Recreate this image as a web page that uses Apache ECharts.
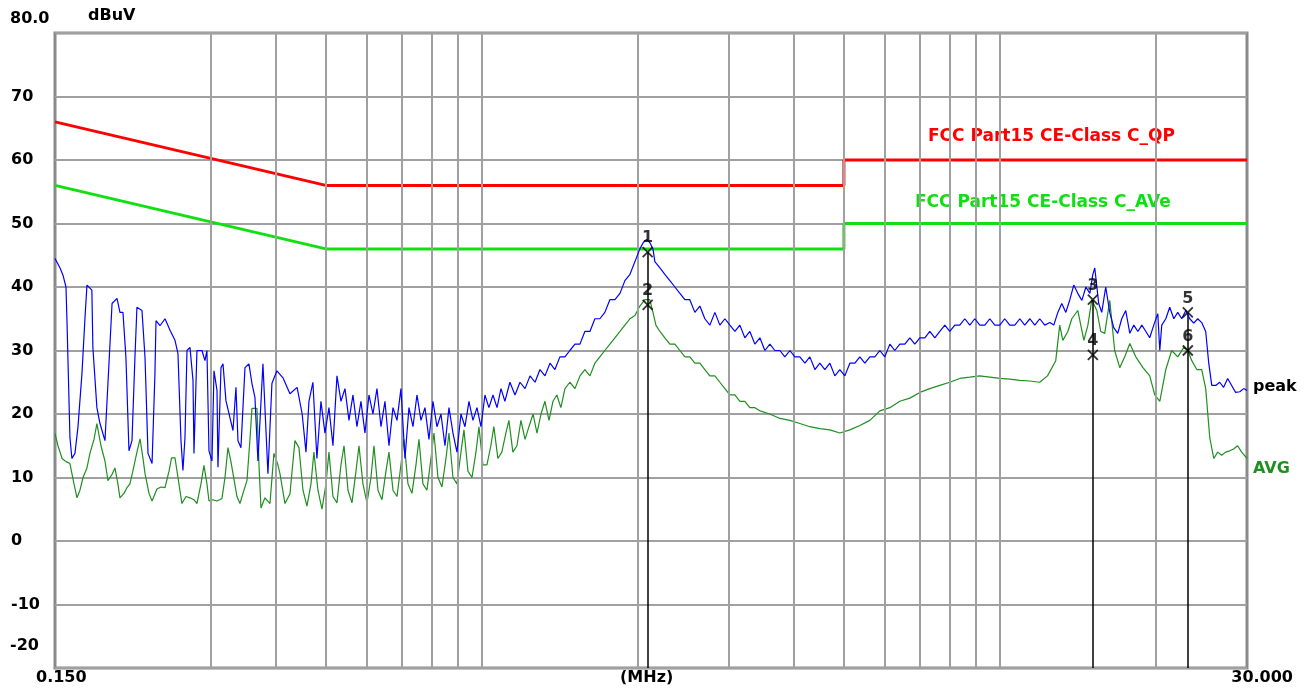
<!DOCTYPE html>
<html>
<head>
<meta charset="utf-8">
<title>Conducted emission</title>
<script src="https://cdn.jsdelivr.net/npm/echarts@6/dist/echarts.min.js"></script>
<style>
  html, body { margin: 0; padding: 0; background: #fff; }
  #chart { width: 1306px; height: 691px; }
</style>
</head>
<body>
<div id="chart"></div>
<script>
// frequency in MHz, level in dBuV
const peakTrace = [
    [0.150, 44.5], [0.1534, 43], [0.1555, 41.8], [0.1575, 40], [0.1582, 34.7], [0.1603, 16.3], [0.1617, 13.0],
    [0.1639, 13.8], [0.1661, 17.9], [0.1691, 26.4], [0.1714, 35.2], [0.1729, 40.3], [0.1767, 39.5], [0.1775, 30.5],
    [0.1807, 21], [0.1832, 18.5], [0.1873, 15.8], [0.1898, 24.8], [0.1933, 37.4], [0.1976, 38.2], [0.2002, 36],
    [0.2029, 36], [0.2056, 28.9], [0.2084, 14.2], [0.2112, 15.8], [0.2140, 28.9], [0.2159, 36.8], [0.2208, 36.3],
    [0.2238, 28.9], [0.2268, 13.8], [0.2309, 12.2], [0.2339, 26.4], [0.2350, 34.7], [0.2392, 33.9], [0.2446, 35],
    [0.2501, 33.2], [0.2557, 31.6], [0.2591, 29.5], [0.2626, 15.8], [0.2649, 11.1], [0.2673, 16.3], [0.2697, 30],
    [0.2733, 30.5], [0.2770, 25.3], [0.2782, 13.8], [0.2819, 30], [0.2883, 30], [0.2921, 28.4], [0.2947, 30],
    [0.2974, 14.2], [0.3014, 12.6], [0.3041, 26.8], [0.3082, 23.7], [0.3095, 11.6], [0.3137, 27.3], [0.3165, 27.9],
    [0.3207, 22.1], [0.3265, 19.4], [0.3309, 17.4], [0.3353, 24.2], [0.3383, 15.8], [0.3428, 14.7], [0.3490, 27.3],
    [0.3552, 27.9], [0.3600, 24.8], [0.3648, 22.6], [0.3697, 12.6], [0.3780, 27.9], [0.3865, 10.6], [0.3934, 24.8],
    [0.4022, 26.8], [0.4132, 25.7], [0.4262, 23.2], [0.4400, 24.2], [0.4500, 20], [0.4577, 14], [0.4638, 22],
    [0.4720, 25], [0.4805, 13], [0.4892, 22], [0.4980, 17], [0.5069, 21], [0.5160, 15], [0.5253, 26], [0.5347, 22],
    [0.5443, 24], [0.5541, 19], [0.5640, 23], [0.5741, 18], [0.5844, 22], [0.5949, 17], [0.6056, 23], [0.6164, 20],
    [0.6275, 24], [0.6388, 18], [0.6502, 22], [0.6619, 15], [0.6738, 21], [0.6859, 19], [0.6981, 24], [0.7106, 13],
    [0.7234, 21], [0.7364, 18], [0.7496, 23], [0.7630, 19], [0.7767, 21], [0.7906, 16], [0.8048, 22], [0.8193, 18],
    [0.8340, 20], [0.8489, 15], [0.8642, 21], [0.8797, 17], [0.8954, 14], [0.9115, 20], [0.9278, 18], [0.9445, 22],
    [0.9614, 19], [0.9787, 21], [0.9962, 18], [1.014, 23], [1.032, 21], [1.051, 23], [1.070, 21], [1.089, 24],
    [1.108, 22], [1.133, 25], [1.159, 23], [1.185, 25], [1.212, 24], [1.239, 26], [1.267, 25], [1.295, 27],
    [1.324, 26], [1.354, 28], [1.384, 27], [1.415, 29], [1.447, 29], [1.479, 30], [1.513, 31], [1.547, 31],
    [1.581, 33], [1.617, 33], [1.653, 35], [1.690, 35], [1.728, 36], [1.767, 38], [1.807, 38], [1.848, 39],
    [1.889, 41], [1.932, 42], [1.975, 44], [2.019, 46], [2.05, 47], [2.08, 47.5], [2.11, 47], [2.14, 46],
    [2.158, 44], [2.207, 43], [2.256, 42], [2.307, 41], [2.359, 40], [2.412, 39], [2.466, 38], [2.521, 38],
    [2.578, 36], [2.636, 37], [2.695, 35], [2.756, 34], [2.818, 36], [2.881, 34], [2.946, 35], [3.012, 34],
    [3.080, 33], [3.149, 34], [3.219, 32], [3.292, 33], [3.366, 31], [3.442, 32], [3.519, 30], [3.598, 31],
    [3.679, 30], [3.762, 30], [3.846, 29], [3.933, 30], [4.021, 29], [4.111, 29], [4.204, 28], [4.298, 29],
    [4.395, 27], [4.493, 28], [4.594, 27], [4.698, 28], [4.803, 26], [4.911, 27], [5.021, 26], [5.134, 28],
    [5.250, 28], [5.367, 29], [5.488, 28], [5.611, 29], [5.737, 29], [5.866, 30], [5.998, 29], [6.133, 31],
    [6.270, 30], [6.411, 31], [6.555, 31], [6.703, 32], [6.853, 31], [7.007, 32], [7.165, 32], [7.326, 33],
    [7.490, 32], [7.659, 33], [7.831, 34], [8.006, 33], [8.186, 34], [8.370, 34], [8.558, 35], [8.751, 34],
    [8.947, 35], [9.148, 34], [9.354, 34], [9.564, 35], [9.779, 34], [9.998, 34], [10.22, 35], [10.45, 34],
    [10.69, 34], [10.93, 35], [11.17, 34], [11.43, 35], [11.68, 34], [11.94, 35], [12.21, 34], [12.49, 34.4],
    [12.71, 34], [12.94, 36], [13.17, 37.4], [13.41, 36], [13.65, 38], [13.89, 40.3], [14.14, 39], [14.40, 37.9],
    [14.66, 40], [14.92, 39], [15.12, 42], [15.25, 43], [15.52, 37.4], [15.73, 36], [16.01, 40], [16.30, 36],
    [16.59, 33.6], [16.89, 32.7], [17.19, 35], [17.50, 36.3], [17.82, 32.7], [18.14, 34], [18.47, 33], [18.80, 34],
    [19.14, 33], [19.47, 32], [19.82, 34], [20.18, 35.8], [20.36, 30], [20.54, 34], [20.91, 35], [21.28, 36.8],
    [21.67, 35], [22.05, 36], [22.45, 35], [22.86, 36.3], [23.26, 35], [23.68, 34.3], [24.10, 35], [24.53, 34.4],
    [24.97, 33], [25.31, 28], [25.65, 24.5], [26.11, 24.5], [26.57, 25], [27.04, 24.2], [27.53, 25.6], [28.02, 24.5],
    [28.52, 23.4], [29.05, 23.5], [29.57, 24], [30.0, 23.7]
];

const avgTrace = [
    [0.150, 16.9], [0.1520, 15], [0.1548, 13], [0.1575, 12.5], [0.1603, 12.2], [0.1632, 9], [0.1654, 6.8],
    [0.1676, 8], [0.1699, 10], [0.1729, 11.5], [0.1752, 13.8], [0.1784, 16], [0.1807, 18.5], [0.1840, 15],
    [0.1873, 12.6], [0.1898, 9.5], [0.1933, 10.5], [0.1958, 11.5], [0.1984, 9], [0.2002, 6.8], [0.2038, 7.5],
    [0.2065, 8.4], [0.2093, 9], [0.2121, 11.1], [0.2159, 14], [0.2189, 16.1], [0.2218, 13], [0.2238, 10.6],
    [0.2278, 7.5], [0.2309, 6.3], [0.2360, 8.2], [0.2402, 8.5], [0.2446, 8.4], [0.2490, 11], [0.2518, 13.1],
    [0.2557, 13.1], [0.2591, 10], [0.2637, 5.9], [0.2685, 7], [0.2733, 6.8], [0.2782, 6.5], [0.2819, 5.9],
    [0.2870, 9], [0.2908, 11.9], [0.2947, 9], [0.2974, 6.3], [0.3027, 6.5], [0.3082, 6.3], [0.3151, 6.7],
    [0.3193, 10], [0.3236, 14.7], [0.3279, 12.5], [0.3309, 10.6], [0.3368, 7], [0.3413, 5.9], [0.3474, 8],
    [0.3521, 9.5], [0.3568, 16], [0.3600, 20.9], [0.3681, 20.9], [0.3714, 12], [0.3747, 5.2], [0.3814, 6.8],
    [0.3900, 5.9], [0.3969, 13.8], [0.4040, 12], [0.4077, 10.6], [0.4169, 5.9], [0.4262, 7.4], [0.4358, 15.8],
    [0.4436, 14.7], [0.4516, 8], [0.4597, 5.5], [0.4680, 9], [0.4741, 14], [0.4827, 8], [0.4914, 5], [0.5002, 9],
    [0.5069, 14], [0.5160, 7], [0.5253, 6], [0.5347, 12], [0.5420, 15], [0.5517, 8], [0.5615, 6], [0.5716, 11],
    [0.5793, 15], [0.5896, 9], [0.6002, 6], [0.6110, 10], [0.6192, 15], [0.6303, 8], [0.6416, 6.5], [0.6531, 11],
    [0.6619, 14], [0.6738, 8], [0.6859, 7], [0.6981, 12], [0.7075, 16], [0.7202, 9], [0.7331, 7.5], [0.7463, 12],
    [0.7563, 16], [0.7698, 9], [0.7836, 8], [0.7977, 13], [0.8084, 17], [0.8229, 10], [0.8377, 8.5], [0.8527, 13],
    [0.8642, 17], [0.8797, 10], [0.8954, 9], [0.9115, 14], [0.9237, 17.5], [0.9403, 11], [0.9572, 10], [0.9743, 14],
    [0.9874, 18], [1.005, 12], [1.023, 12], [1.041, 15], [1.055, 18], [1.074, 13], [1.093, 14], [1.113, 17],
    [1.128, 19], [1.148, 14], [1.169, 15], [1.190, 19], [1.212, 16], [1.233, 18], [1.256, 20], [1.278, 17],
    [1.301, 20], [1.324, 22], [1.348, 19], [1.372, 22], [1.396, 23], [1.421, 21], [1.447, 24], [1.479, 25],
    [1.513, 24], [1.547, 26], [1.581, 27], [1.617, 26], [1.653, 28], [1.690, 29], [1.728, 30], [1.767, 31],
    [1.807, 32], [1.848, 33], [1.889, 34], [1.932, 35], [1.975, 35.5], [2.019, 37], [2.065, 38], [2.11, 38],
    [2.14, 36], [2.168, 34], [2.207, 33], [2.256, 32], [2.307, 31], [2.359, 31], [2.412, 30], [2.466, 29],
    [2.521, 29], [2.578, 28], [2.636, 28], [2.695, 27], [2.756, 26], [2.818, 26], [2.881, 25], [2.946, 24],
    [3.012, 23], [3.080, 23], [3.149, 22], [3.219, 22], [3.292, 21], [3.366, 21], [3.442, 20.5], [3.598, 20],
    [3.762, 19.3], [3.933, 19], [4.111, 18.5], [4.298, 18], [4.493, 17.7], [4.698, 17.5], [4.911, 17],
    [5.134, 17.5], [5.367, 18.2], [5.611, 19], [5.866, 20.5], [6.133, 21], [6.411, 22], [6.703, 22.5],
    [7.007, 23.4], [7.326, 24], [7.659, 24.5], [8.006, 25], [8.370, 25.6], [8.751, 25.8], [9.148, 26],
    [9.564, 25.8], [9.998, 25.6], [10.45, 25.5], [10.93, 25.3], [11.43, 25.2], [11.94, 25], [12.36, 26],
    [12.82, 28.4], [13.05, 34], [13.23, 31.6], [13.53, 33], [13.77, 35], [14.14, 36.3], [14.53, 31.6],
    [14.79, 34], [15.05, 38], [15.39, 36.3], [15.66, 33], [15.94, 32.7], [16.30, 37.9], [16.66, 30],
    [17.04, 27.3], [17.42, 29], [17.82, 31.1], [18.30, 29], [18.89, 27.3], [19.47, 26], [19.91, 23],
    [20.36, 22], [20.91, 27], [21.47, 30], [22.05, 29], [22.65, 30.5], [23.06, 30], [23.47, 28.4], [24.00, 27],
    [24.53, 27], [24.97, 24], [25.42, 16.3], [25.88, 13], [26.34, 14], [26.81, 13.5], [27.28, 14], [27.78, 14.2],
    [28.27, 14.5], [28.77, 15], [29.30, 14], [30.0, 13]
];

// FCC limit lines
const qpLimit = [[0.15, 66], [0.5, 56], [5, 56], [5, 60], [30, 60]];
const avgLimit = [[0.15, 56], [0.5, 46], [5, 46], [5, 50], [30, 50]];

// markers
const markerNames = ['1', '2', '3', '4', '5', '6'];
const markerFreqs = [2.09, 2.09, 15.12, 15.12, 23.06, 23.06];
const markerLevels = [45.5, 37.2, 38.0, 29.3, 36.0, 30.0];

const gridFreqs = [0.3, 0.4, 0.5, 0.6, 0.7, 0.8, 0.9, 1, 2, 3, 4, 5, 6, 7, 8, 9, 10, 20];
const yTicks = { min: -20, max: 80, step: 10 };

const FONT = '"DejaVu Sans", "Liberation Sans", Arial, sans-serif';
const GRID_COLOR = '#a0a0a0';

function txt(text, x, y, color, align, size) {
    return {
        type: 'text',
        left: align === 'right' ? null : x,
        right: align === 'right' ? x : null,
        top: y,
        style: { text: text, fill: color || '#000', font: 'bold ' + (size || 16) + 'px ' + FONT }
    };
}

function markerLines() {
    // one line per marker frequency, from the highest marker down to the floor
    const out = [];
    markerFreqs.forEach((f, i) => {
        if (i > 0 && markerFreqs[i - 1] === f) return;
        out.push([{ coord: [f, markerLevels[i]] }, { coord: [f, yTicks.min] }]);
    });
    return out;
}

const chart = echarts.init(document.getElementById('chart'));

const option = {
    animation: false,
    backgroundColor: '#fff',
    grid: {
        left: 55, right: 59, top: 33, bottom: 23,
        show: true, borderColor: '#8a8a8a', borderWidth: 3, backgroundColor: '#fff'
    },
    xAxis: {
        type: 'log', logBase: 10, min: 0.15, max: 30,
        axisLine: { show: false }, axisTick: { show: false },
        axisLabel: { show: false }, splitLine: { show: false }
    },
    yAxis: {
        type: 'value', min: yTicks.min, max: yTicks.max, interval: yTicks.step,
        axisLine: { show: false }, axisTick: { show: false },
        splitLine: { lineStyle: { color: GRID_COLOR, width: 2 } },
        axisLabel: {
            align: 'left', margin: 44,
            color: '#000', fontWeight: 'bold', fontSize: 16, fontFamily: FONT,
            formatter: v => (v === yTicks.max || v === yTicks.min) ? '' : String(v)
        }
    },
    graphic: [
        txt('80.0', 10, 11),
        txt('dBuV', 88, 8),
        txt('-20', 10, 638),
        txt('0.150', 36, 670),
        txt('(MHz)', 620, 670),
        txt('30.000', 13, 670, '#000', 'right'),
        txt('peak', 1253, 379),
        txt('AVG', 1253, 461, '#1f8f1f'),
        txt('FCC Part15 CE-Class C_QP', 928, 128, '#ff0000', null, 17),
        txt('FCC Part15 CE-Class C_AVe', 915, 194, '#10e010', null, 17)
    ],
    series: [
        {
            // vertical grid lines
            type: 'line', data: [], z: 1, silent: true,
            markLine: {
                symbol: 'none', silent: true, label: { show: false },
                lineStyle: { color: GRID_COLOR, width: 2, type: 'solid' },
                data: gridFreqs.map(f => ({ xAxis: f }))
            }
        },
        {
            name: 'QP limit', type: 'line', data: qpLimit, z: 3,
            showSymbol: false, lineStyle: { color: '#ff0000', width: 3 }
        },
        {
            name: 'AVG limit', type: 'line', data: avgLimit, z: 3,
            showSymbol: false, lineStyle: { color: '#10e010', width: 3 }
        },
        {
            name: 'AVG', type: 'line', data: avgTrace, z: 4,
            showSymbol: false, lineStyle: { color: '#1f8f1f', width: 1.2 }
        },
        {
            name: 'peak', type: 'line', data: peakTrace, z: 5,
            showSymbol: false, lineStyle: { color: '#0000ff', width: 1.2 }
        },
        {
            name: 'markers', type: 'scatter', z: 6,
            data: markerFreqs.map((f, i) => ({ value: [f, markerLevels[i]], name: markerNames[i] })),
            symbol: 'path://M0,0L10,10M10,0L0,10',
            symbolSize: 10,
            itemStyle: { color: 'transparent', borderColor: '#000', borderWidth: 1.8 },
            label: {
                show: true, position: 'top', distance: 0,
                formatter: p => p.name,
                color: '#000', fontWeight: 'bold', fontSize: 16, fontFamily: FONT
            },
            markLine: {
                symbol: 'none', silent: true, label: { show: false },
                lineStyle: { color: '#000', width: 1.5, type: 'solid' },
                data: markerLines()
            }
        }
    ]
};

chart.setOption(option);
</script>
</body>
</html>
